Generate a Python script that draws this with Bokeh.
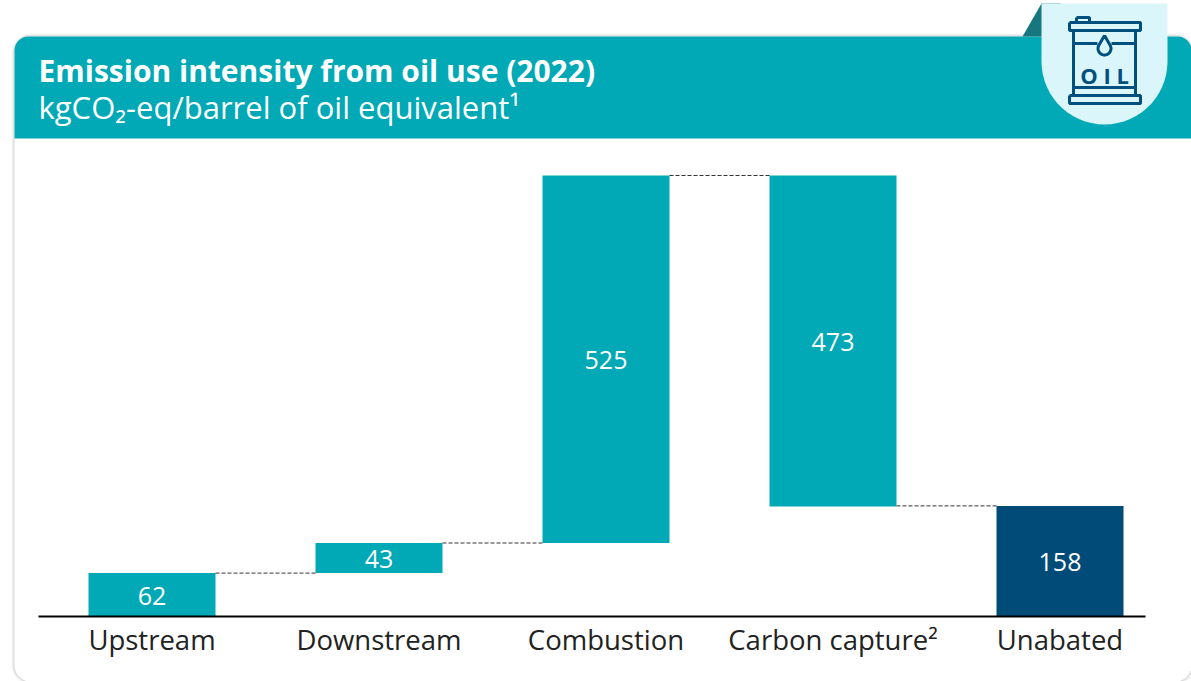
import math
from bokeh.plotting import figure
from bokeh.models import Range1d, FixedTicker, ColumnDataSource
from bokeh.core.properties import value
from bokeh.embed import file_html
from bokeh.resources import INLINE

categories = ["Upstream", "Downstream", "Combustion", "Carbon capture²", "Unabated"]
values = [62, 43, 525, 473, 158]
bottoms = [0, 62, 105, 157, 0]
tops = [62, 105, 630, 630, 158]
colors = ["#00A9B5", "#00A9B5", "#00A9B5", "#00A9B5", "#004B78"]
connector_levels = [62, 105, 630, 158]
title_text = "Emission intensity from oil use (2022)"
subtitle_text = "kgCO₂-eq/barrel of oil equivalent¹"

W, H = 1191, 681
PAD = 0
FONT = "Open Sans"
TEAL = "#00A9B5"
NAVY = "#00507F"

# scales: one category step = 227 px, one value unit = 0.7 px, zero at page y 616
step = 227.0
x0 = (151.5 - PAD) / step
ppu = 0.7
y_low = -(PAD + H - 616) / ppu
y_high = (616 - PAD) / ppu
bar_w = 127 / step

p = figure(width=W, height=H, output_backend="svg", toolbar_location=None,
           x_range=Range1d(-x0, -x0 + W / step), y_range=Range1d(y_low, y_high),
           min_border=0, min_border_left=0, min_border_right=0, min_border_top=0, min_border_bottom=0,
           outline_line_color=None, background_fill_color=None, border_fill_color=None)
p.grid.visible = False
p.yaxis.visible = False
p.extra_x_ranges["px"] = Range1d(PAD, PAD + W)
p.extra_y_ranges["px"] = Range1d(PAD + H, PAD)


def rounded(l, t, r, b, rad):
    xs, ys = [], []
    for cx, cy, a0 in [(l + rad, t + rad, 180), (r - rad, t + rad, 270), (r - rad, b - rad, 0), (l + rad, b - rad, 90)]:
        for k in range(13):
            a = math.radians(a0 + k * 7.5)
            xs.append(cx + rad * math.cos(a))
            ys.append(cy + rad * math.sin(a))
    return xs, ys


def px_patch(xs, ys, **kw):
    p.patch(xs, ys, x_range_name="px", y_range_name="px", line_color=None, **kw)


def px_line(xs, ys, width=3):
    p.line(xs, ys, x_range_name="px", y_range_name="px", line_color=NAVY, line_width=width)


def px_text(x, y, txt, size, color="#FFFFFF", style="normal", align="left"):
    p.text([x], [y], text=[txt], x_range_name="px", y_range_name="px", text_color=color,
           text_font=value(FONT), text_font_size=size, text_font_style=style,
           text_align=align, text_baseline="middle")


# card shadow and body
for grow, alpha in [(3, 0.06), (2, 0.10), (1, 0.16)]:
    xs, ys = rounded(14 - grow, 36 - grow, 1191 + grow, 681 + grow, 16 + grow)
    px_patch(xs, ys, fill_color="#808080", fill_alpha=alpha)
xs, ys = rounded(14, 36, 1191, 681, 16)
px_patch(xs, ys, fill_color="#FFFFFF")

# header band
rad = 14
hx = [14 + rad - rad * math.cos(math.radians(a)) for a in range(0, 91, 10)]
hy = [36 + rad - rad * math.sin(math.radians(a)) for a in range(0, 91, 10)]
hx2 = [1191 - rad + rad * math.sin(math.radians(a)) for a in range(0, 91, 10)]
hy2 = [36 + rad - rad * math.cos(math.radians(a)) for a in range(0, 91, 10)]
px_patch(hx + hx2 + [1191, 14], hy + hy2 + [138, 138], fill_color=TEAL)

# tab with the barrel icon
px_patch([1022, 1041, 1060, 1060], [36, 3, 3, 36], fill_color="#17777F")
arc_a = list(range(0, 181, 6))
tx = [1104 + 63 * math.cos(math.radians(a)) for a in arc_a]
ty = [61 + 63 * math.sin(math.radians(a)) for a in arc_a]
px_patch([1167] + tx + [1041], [3] + ty + [3], fill_color="#DAF6FA")

for l, t, r, b in [(1069, 22, 1140, 30), (1069, 95, 1140, 103), (1076, 17, 1089, 22)]:
    px_line([l, r, r, l, l], [t, t, b, b, t])
px_line([1073, 1073], [30, 95])
px_line([1135, 1135], [30, 95])
px_line([1073, 1097], [43, 43])
px_line([1111, 1135], [43, 43])
px_line([1073, 1135], [87, 87])
drop_a = list(range(-30, 211, 10))
dx = [1104 + 6.5 * math.cos(math.radians(a)) for a in drop_a]
dy = [48 + 6.5 * math.sin(math.radians(a)) for a in drop_a]
px_line([1104] + dx + [1104], [35] + dy + [35])
px_text(1104, 74, "O I L", "22px", NAVY, "bold", "center")

# header texts
px_text(38, 70, title_text, "30px", "#FFFFFF", "bold")
px_text(38, 106, subtitle_text, "31px", "#FFFFFF")

# waterfall bars
idx = list(range(len(categories)))
src = ColumnDataSource(dict(x=idx, bottom=bottoms, top=tops, color=colors,
                            mid=[(a + b) / 2 for a, b in zip(bottoms, tops)],
                            label=[str(v) for v in values]))
p.vbar(x="x", width=bar_w, bottom="bottom", top="top", fill_color="color", line_color=None, source=src)
p.text(x="x", y="mid", y_offset=1, text="label", source=src, text_color="#FFFFFF", text_font=value(FONT),
       text_font_size="25px", text_align="center", text_baseline="middle")

# connectors between bars
p.segment(x0=[i + bar_w / 2 for i in idx[:-1]], x1=[i + 1 - bar_w / 2 for i in idx[:-1]],
          y0=connector_levels, y1=connector_levels,
          line_color="#333333", line_width=1, line_dash="4 2")

# category axis inside the frame, at value zero
ax = p.xaxis[0]
ax.fixed_location = 0
ax.ticker = FixedTicker(ticks=idx)
ax.major_label_overrides = {i: c for i, c in zip(idx, categories)}
ax.major_tick_line_color = None
ax.minor_tick_line_color = None
ax.axis_line_color = "#000000"
ax.axis_line_width = 2
ax.bounds = (-x0 + (38 - PAD) / step, -x0 + (1145 - PAD) / step)
ax.major_label_standoff = -2
ax.major_label_text_font = FONT
ax.major_label_text_font_size = "27.5px"
ax.major_label_text_color = "#222222"

open("out.html", "w").write(file_html(p, INLINE))
